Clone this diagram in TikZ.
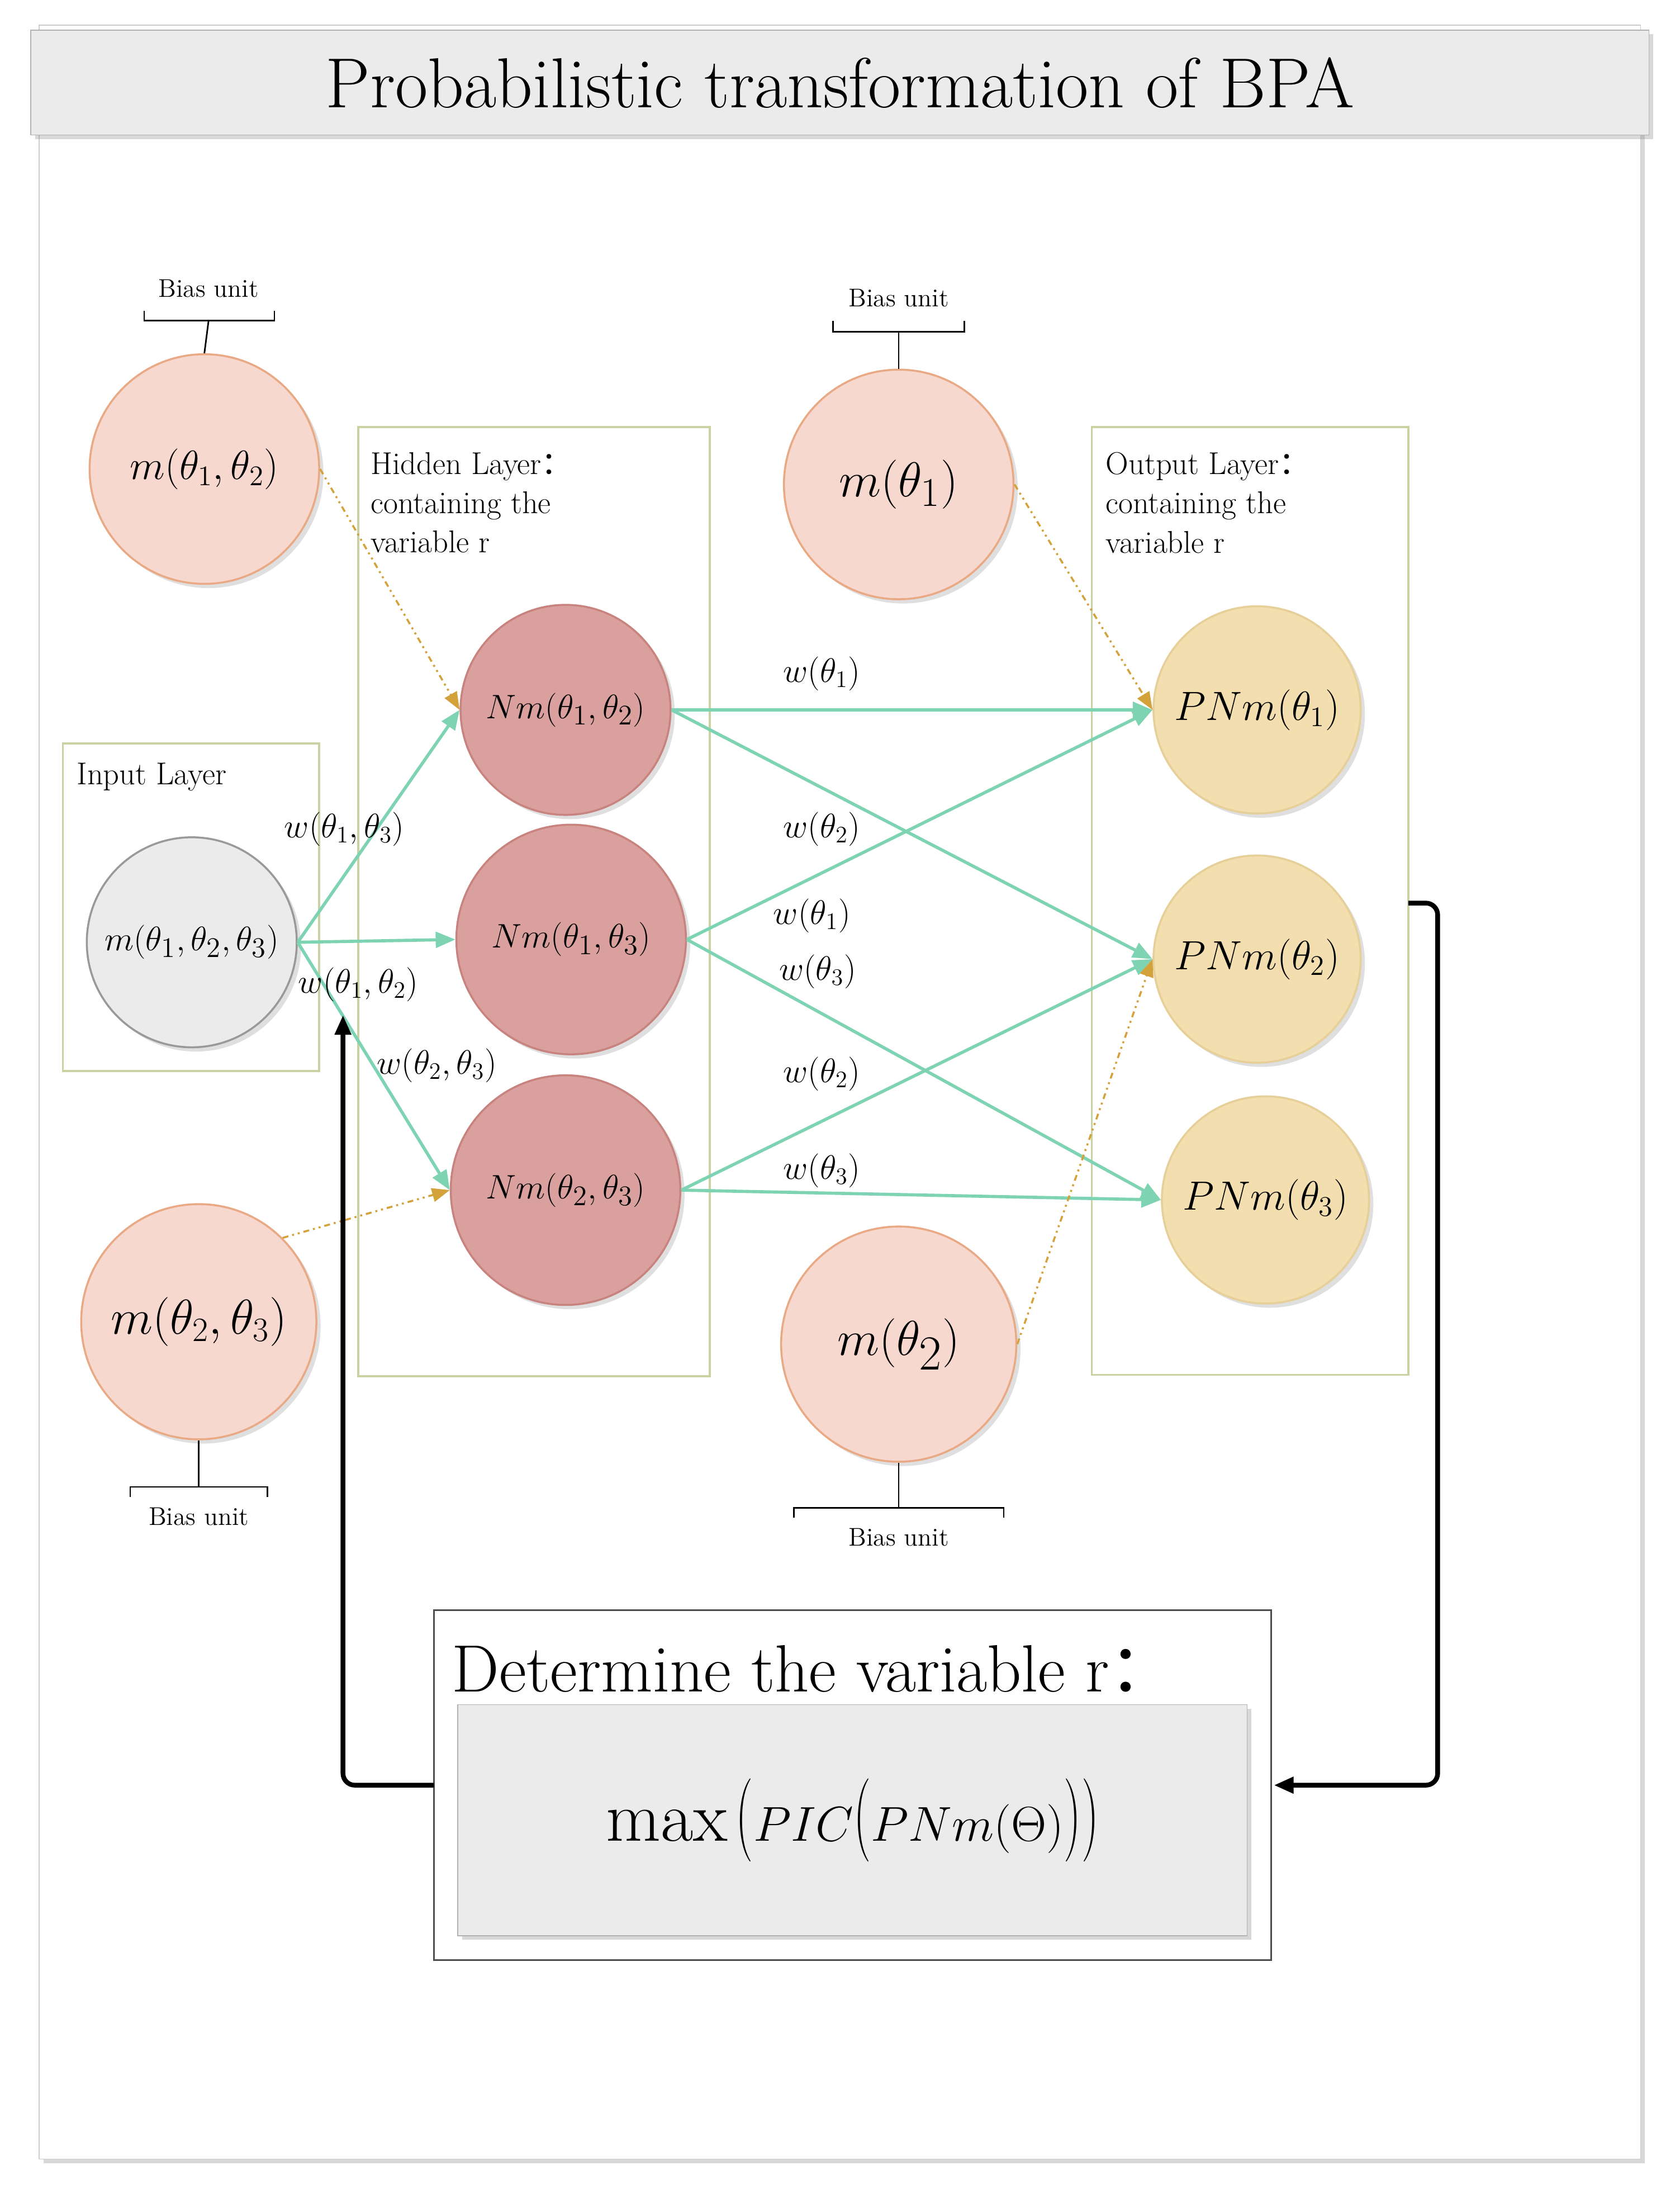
\documentclass[tikz,border=0pt]{standalone}
\usepackage{fontspec}
\usepackage{graphicx}
\newfontfamily\cjk{Noto Sans CJK SC}
\newcommand\tallp[1]{\scalebox{1}[1.7]{$#1$}}
\usetikzlibrary{arrows.meta,shadows}
\definecolor{pinkf}{HTML}{F6D8CF}
\definecolor{pinkd}{HTML}{E9A985}
\definecolor{hidf}{HTML}{D9A09E}
\definecolor{hidd}{HTML}{C9837F}
\definecolor{outf}{HTML}{F2DEAE}
\definecolor{outd}{HTML}{E6CF98}
\definecolor{grn}{HTML}{7ED3B2}
\definecolor{org}{HTML}{D4A23A}
\definecolor{boxc}{HTML}{C9D2A2}
\begin{document}
\begin{tikzpicture}[x=0.025cm,y=-0.025cm,
 circ/.style={circle,draw,line width=1pt,inner sep=0pt,drop shadow={opacity=0.25}},
 bias/.style={circ,fill=pinkf,draw=pinkd},
 hid/.style={circ,fill=hidf,draw=hidd},
 outn/.style={circ,fill=outf,draw=outd},
 layer/.style={draw=boxc,line width=1pt,fill=white},
 g/.style={draw=grn,line width=1.6pt,-{Triangle[length=10pt,width=8pt]}},
 o/.style={draw=org,line width=1pt,dash dot dot,-{Triangle[length=9pt,width=7pt]}},
 k/.style={line width=2.4pt,-{Triangle[length=10pt,width=8pt]},rounded corners=6pt},
 wl/.style={font=\fontsize{17}{20}\selectfont},
 bl/.style={font=\fontsize{13}{15}\selectfont},
 lt/.style={font=\fontsize{16}{20}\selectfont,align=left,anchor=north west}]
\useasboundingbox (0,0) rectangle (1200,1577);
\fill[white] (0,0) rectangle (1200,1577);
\draw[black!20,fill=white,drop shadow={opacity=0.3}] (28,18) rectangle (1172,1542);
\node[draw=black!30,fill=black!8,minimum width=1156*0.025cm,minimum height=75*0.025cm,drop shadow={opacity=0.3},font=\fontsize{36}{40}\selectfont] (title) at (600,59) {Probabilistic transformation of BPA};
% layer boxes
\draw[layer] (45,531) rectangle (228,765);
\draw[layer] (256,305) rectangle (507,983);
\draw[layer] (780,305) rectangle (1006,982);
\node[lt] (tin) at (50,540) {Input Layer};
\node[lt] (thid) at (260,318) {Hidden Layer{\cjk ：}\\containing the\\variable r};
\node[lt] (tout) at (785,318) {Output Layer{\cjk ：}\\containing the\\variable r};
% circles
\node[bias,minimum size=164*0.025cm,font=\fontsize{22}{26}\selectfont] (b12) at (146,335) {$m(\theta_1,\theta_2)$};
\node[bias,minimum size=164*0.025cm,font=\fontsize{32}{36}\selectfont] (b1) at (642,346) {$m(\theta_1)$};
\node[bias,minimum size=168*0.025cm,font=\fontsize{27}{30}\selectfont] (b23) at (142,944) {$m(\theta_2,\theta_3)$};
\node[bias,minimum size=168*0.025cm,font=\fontsize{34}{38}\selectfont] (b2) at (642,960) {$m(\theta_2)$};
\node[circ,fill=black!8,draw=black!40,minimum size=150*0.025cm,font=\fontsize{19}{22}\selectfont] (in) at (137,673) {$m(\theta_1,\theta_2,\theta_3)$};
\node[hid,minimum size=150*0.025cm,font=\fontsize{19}{22}\selectfont] (h12) at (404,507) {$Nm(\theta_1,\theta_2)$};
\node[hid,minimum size=164*0.025cm,font=\fontsize{19}{22}\selectfont] (h13) at (408,671) {$Nm(\theta_1,\theta_3)$};
\node[hid,minimum size=164*0.025cm,font=\fontsize{19}{22}\selectfont] (h23) at (404,850) {$Nm(\theta_2,\theta_3)$};
\node[outn,minimum size=148*0.025cm,font=\fontsize{21}{24}\selectfont] (p1) at (898,507) {$PNm(\theta_1)$};
\node[outn,minimum size=148*0.025cm,font=\fontsize{21}{24}\selectfont] (p2) at (898,685) {$PNm(\theta_2)$};
\node[outn,minimum size=148*0.025cm,font=\fontsize{21}{24}\selectfont] (p3) at (904,857) {$PNm(\theta_3)$};
% bias brackets
\coordinate (c12) at (149,229); \draw[thick] (b12.north) -- (c12); \draw[thick] (103,222) -- (103,229) -- (196,229) -- (196,222);
\node[bl] (l12) at (149,206) {Bias unit};
\coordinate (c1) at (642,237); \draw[thick] (b1.north) -- (c1); \draw[thick] (595,229) -- (595,237) -- (689,237) -- (689,229);
\node[bl] (l1) at (642,213) {Bias unit};
\coordinate (c23) at (142,1062); \draw[thick] (b23.south) -- (c23); \draw[thick] (93,1069) -- (93,1062) -- (191,1062) -- (191,1069);
\node[bl] (l23) at (142,1083) {Bias unit};
\coordinate (c2) at (642,1077); \draw[thick] (b2.south) -- (c2); \draw[thick] (567,1084) -- (567,1077) -- (717,1077) -- (717,1084);
\node[bl] (l2) at (642,1098) {Bias unit};
% green connections
\draw[g] (in.east) -- (h12.west);
\draw[g] (in.east) -- (h13.west);
\draw[g] (in.east) -- (h23.west);
\draw[g] (h12.east) -- (p1.west);
\draw[g] (h12.east) -- (p2.west);
\draw[g] (h13.east) -- (p1.west);
\draw[g] (h13.east) -- (p3.west);
\draw[g] (h23.east) -- (p2.west);
\draw[g] (h23.east) -- (p3.west);
% orange bias arrows
\draw[o] (b12.east) -- (h12.west);
\draw[o] (b1.east) -- (p1.west);
\draw[o] (b23.north east) -- (h23.west);
\draw[o] (b2.east) -- (p2.west);
% weight labels
\node[wl] (w1) at (246,592) {$w(\theta_1,\theta_3)$};
\node[wl] (w2) at (256,703) {$w(\theta_1,\theta_2)$};
\node[wl] (w3) at (312,761) {$w(\theta_2,\theta_3)$};
\node[wl] (w4) at (587,481) {$w(\theta_1)$};
\node[wl] (w5) at (587,592) {$w(\theta_2)$};
\node[wl] (w6) at (580,654) {$w(\theta_1)$};
\node[wl] (w7) at (584,694) {$w(\theta_3)$};
\node[wl] (w8) at (587,767) {$w(\theta_2)$};
\node[wl] (w9) at (587,836) {$w(\theta_3)$};
% bottom box
\draw[black!70,thick,fill=white] (310,1150) rectangle (908,1400);
\node[font=\fontsize{34}{38}\selectfont,anchor=west] (det) at (318,1192) {Determine the variable r{\cjk ：}};
\node[draw=black!30,fill=black!8,minimum width=564*0.025cm,minimum height=165*0.025cm,drop shadow={opacity=0.3},font=\fontsize{36}{40}\selectfont] (form) at (609,1300) {$\max\tallp{(}PIC\tallp{(}PNm(\Theta)\tallp{)}\tallp{)}$};
\coordinate (r1) at (1006,645);
\coordinate (r2) at (1027,1275);
\coordinate (r3) at (245,725);
\draw[k] (r1) -- (1027,645) -- (r2) -- (910,1275);
\draw[k] (310,1275) -- (245,1275) -- (r3);
\end{tikzpicture}
\end{document}
